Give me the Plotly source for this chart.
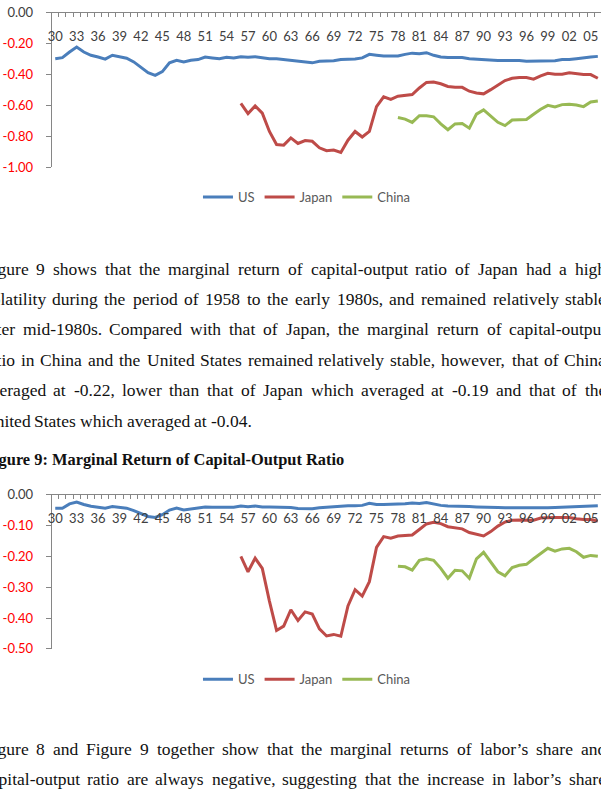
import plotly.graph_objects as go

# ---------------- data ----------------
years = list(range(1930, 2007))
japan_years = list(range(1956, 2007))
china_years = list(range(1978, 2007))

label_years = list(range(1930, 2006, 3))
label_text = ["30", "33", "36", "39", "42", "45", "48", "51", "54", "57", "60", "63", "66",
              "69", "72", "75", "78", "81", "84", "87", "90", "93", "96", "99", "02", "05"]

# Figure 8 (top): marginal return of labor's share
us_top = [-0.297, -0.290, -0.254, -0.222, -0.254, -0.275, -0.286, -0.300, -0.275, -0.286,
          -0.294, -0.318, -0.354, -0.388, -0.405, -0.381, -0.324, -0.307, -0.318, -0.307,
          -0.303, -0.286, -0.292, -0.297, -0.288, -0.292, -0.284, -0.288, -0.284, -0.290,
          -0.297, -0.297, -0.303, -0.309, -0.316, -0.320, -0.324, -0.314, -0.314, -0.311,
          -0.303, -0.301, -0.299, -0.292, -0.269, -0.275, -0.280, -0.280, -0.280, -0.269,
          -0.261, -0.265, -0.258, -0.275, -0.286, -0.290, -0.290, -0.290, -0.297, -0.301,
          -0.305, -0.305, -0.309, -0.309, -0.309, -0.309, -0.314, -0.314, -0.314, -0.314,
          -0.311, -0.303, -0.303, -0.297, -0.290, -0.286, -0.282]
japan_top = [-0.587, -0.653, -0.604, -0.650, -0.769, -0.854, -0.858, -0.811, -0.847,
             -0.828, -0.833, -0.875, -0.894, -0.890,
             -0.905, -0.826, -0.769, -0.805, -0.769, -0.608, -0.544, -0.561, -0.540, -0.536,
             -0.530, -0.487, -0.451, -0.449, -0.460, -0.477, -0.483, -0.483, -0.508, -0.519,
             -0.525, -0.498, -0.468, -0.439, -0.424, -0.419, -0.419, -0.430, -0.409, -0.392,
             -0.398, -0.398, -0.388, -0.396, -0.400, -0.400, -0.424]
china_top = [-0.678, -0.689,
             -0.710, -0.667, -0.667, -0.674, -0.720, -0.758, -0.720, -0.718, -0.748, -0.657,
             -0.629, -0.667, -0.710, -0.731, -0.695, -0.693, -0.691, -0.657, -0.625, -0.600,
             -0.610, -0.595, -0.593, -0.597, -0.608, -0.578, -0.572]

# Figure 9 (bottom): marginal return of capital-output ratio
us_bot = [-0.044, -0.044, -0.030, -0.024, -0.032, -0.038, -0.041, -0.044, -0.039, -0.041,
          -0.044, -0.052, -0.062, -0.071, -0.074, -0.065, -0.050, -0.044, -0.050, -0.047,
          -0.045, -0.040, -0.041, -0.041, -0.040, -0.041, -0.037, -0.039, -0.037, -0.040,
          -0.040, -0.040, -0.042, -0.042, -0.045, -0.046, -0.046, -0.043, -0.041, -0.041,
          -0.037, -0.036, -0.036, -0.035, -0.028, -0.032, -0.032, -0.032, -0.032, -0.030,
          -0.027, -0.029, -0.026, -0.031, -0.035, -0.037, -0.037, -0.037, -0.039, -0.040,
          -0.040, -0.041, -0.042, -0.043, -0.043, -0.043, -0.044, -0.045, -0.044, -0.043,
          -0.042, -0.041, -0.041, -0.040, -0.038, -0.037, -0.036]
japan_bot = [-0.200, -0.250, -0.206, -0.239, -0.345, -0.440, -0.426, -0.373, -0.408,
             -0.380, -0.387, -0.435, -0.458, -0.453,
             -0.459, -0.361, -0.308, -0.329, -0.282, -0.171, -0.136, -0.141, -0.134, -0.133,
             -0.131, -0.113, -0.095, -0.090, -0.094, -0.104, -0.108, -0.111, -0.123, -0.129,
             -0.134, -0.120, -0.102, -0.089, -0.083, -0.082, -0.082, -0.083, -0.076, -0.074,
             -0.074, -0.074, -0.074, -0.078, -0.081, -0.081, -0.086]
china_bot = [-0.232, -0.234,
             -0.245, -0.213, -0.208, -0.213, -0.239, -0.271, -0.245, -0.247, -0.271, -0.208,
             -0.187, -0.218, -0.250, -0.263, -0.236, -0.229, -0.226, -0.208, -0.190, -0.174,
             -0.183, -0.176, -0.174, -0.185, -0.203, -0.197, -0.200]

top_ticks = [0.0, -0.2, -0.4, -0.6, -0.8, -1.0]
bot_ticks = [0.0, -0.1, -0.2, -0.3, -0.4, -0.5]

para1 = [
    "Figure 9 shows that the marginal return of capital-output ratio of Japan had a high",
    "volatility during the period of 1958 to the early 1980s, and remained relatively stable",
    "after mid-1980s. Compared with that of Japan, the marginal return of capital-output",
    "ratio in China and the United States remained relatively stable, however, that of China",
    "averaged at -0.22, lower than that of Japan which averaged at -0.19 and that of the",
    "United States which averaged at -0.04.",
]
caption = "Figure 9: Marginal Return of Capital-Output Ratio"
para2 = [
    "Figure 8 and Figure 9 together show that the marginal returns of labor\u2019s share and",
    "capital-output ratio are always negative, suggesting that the increase in labor\u2019s share",
]

# ---------------- styling ----------------
W, H = 601, 801
COLORS = {"US": "#4A7EBB", "Japan": "#BE4B48", "China": "#98B954"}
AXIS_GRAY = "#868686"
TICK_FONT = dict(family="Lato", size=13, color="#404040")


def py(v):
    return 1 - v / H


def px(v):
    return v / W


def tick_text(vals):
    out = []
    for v in vals:
        s = f"{v:.2f}"
        if v < 0:
            out.append(f"<span style='color:#FF0000'>{s}</span>")
        else:
            out.append(s)
    return out


fig = go.Figure()
for name, xs, ys in [("US", years, us_top), ("Japan", japan_years, japan_top), ("China", china_years, china_top)]:
    fig.add_trace(go.Scatter(x=xs, y=ys, mode="lines", name=name, xaxis="x", yaxis="y",
                             line=dict(color=COLORS[name], width=3), legend="legend"))
for name, xs, ys in [("US", years, us_bot), ("Japan", japan_years, japan_bot), ("China", china_years, china_bot)]:
    fig.add_trace(go.Scatter(x=xs, y=ys, mode="lines", name=name, xaxis="x2", yaxis="y2",
                             line=dict(color=COLORS[name], width=3), legend="legend2"))

x0_px = 48.0
step = 7.187
x_range = [1929.5, 1929.5 + (W - x0_px) / step]
bounds = [1929.5 + i for i in range(0, 78)]


def xaxis_cfg(anchor):
    return dict(domain=[px(x0_px), 1], range=x_range, side="top", anchor=anchor,
                showline=True, linecolor=AXIS_GRAY, linewidth=1,
                tickmode="array", tickvals=label_years, ticktext=label_text,
                ticks="", ticklabelposition="inside", ticklabeloverflow="allow",
                ticklabelstandoff=19, tickfont=TICK_FONT,
                minor=dict(tickmode="array", tickvals=bounds, ticks="inside", ticklen=4,
                           tickcolor=AXIS_GRAY, showgrid=False),
                showgrid=False, zeroline=False)


def yaxis_cfg(anchor, top_px, bot_px, rng, ticks):
    return dict(domain=[py(bot_px), py(top_px)], range=rng, anchor=anchor,
                showline=True, linecolor=AXIS_GRAY, linewidth=1,
                ticks="outside", ticklen=5, tickcolor=AXIS_GRAY,
                tickmode="array", tickvals=ticks, ticktext=tick_text(ticks),
                tickfont=TICK_FONT, ticklabelstandoff=10,
                showgrid=False, zeroline=False)


legend_common = dict(orientation="h", x=px(305), xanchor="center", yanchor="middle",
                     font=dict(family="Lato", size=13, color="#595959"),
                     bgcolor="rgba(0,0,0,0)", itemwidth=30, tracegroupgap=0)

fig.update_layout(
    width=W, height=H, margin=dict(l=0, r=0, t=0, b=0),
    paper_bgcolor="white", plot_bgcolor="white",
    xaxis=xaxis_cfg("y"),
    yaxis=yaxis_cfg("x", 5, 162.3, [-1.0, 0.0], top_ticks),
    xaxis2=xaxis_cfg("y2"),
    yaxis2=yaxis_cfg("x2", 496.5, 654, [-0.5, 0.0], bot_ticks),
    legend=dict(legend_common, y=py(193)),
    legend2=dict(legend_common, y=py(685)),
)

# ---------------- justified body text ----------------
TIMES = {
    " ": 250, ",": 250, "-": 333, ".": 250, ":": 278, "\u2019": 333,
    "0": 500, "1": 500, "2": 500, "3": 500, "4": 500, "5": 500, "6": 500, "7": 500, "8": 500, "9": 500,
    "A": 722, "B": 667, "C": 667, "D": 722, "E": 611, "F": 556, "G": 722, "H": 722, "I": 333, "J": 389,
    "K": 722, "L": 611, "M": 889, "N": 722, "O": 722, "P": 556, "Q": 722, "R": 667, "S": 556, "T": 611,
    "U": 722, "V": 722, "W": 944, "X": 722, "Y": 722, "Z": 611,
    "a": 444, "b": 500, "c": 444, "d": 500, "e": 444, "f": 333, "g": 500, "h": 500, "i": 278, "j": 278,
    "k": 500, "l": 278, "m": 778, "n": 500, "o": 500, "p": 500, "q": 500, "r": 333, "s": 389, "t": 278,
    "u": 500, "v": 500, "w": 722, "x": 500, "y": 500, "z": 444,
}
BODY_SIZE = 17.5
LEFT = -22.5
RIGHT = 605.0
TEXT_COLOR = "#111111"


def word_w(word, size):
    return sum(TIMES.get(c, 500) for c in word) / 1000 * size


def add_line(line, y_center, justify=True):
    words = line.split(" ")
    total = sum(word_w(w, BODY_SIZE) for w in words)
    if justify and len(words) > 1:
        gap = (RIGHT - LEFT - total) / (len(words) - 1)
    else:
        gap = 0.25 * BODY_SIZE
    x = LEFT
    for w in words:
        fig.add_annotation(x=px(x), y=py(y_center), xref="paper", yref="paper",
                           text=w, showarrow=False, xanchor="left", yanchor="middle",
                           borderpad=0, font=dict(family="Liberation Serif", size=BODY_SIZE,
                                                  color=TEXT_COLOR))
        x += word_w(w, BODY_SIZE) + gap


line_y1 = [266, 297, 328, 359, 390, 421]
for i, line in enumerate(para1):
    add_line(line, line_y1[i], justify=(i < len(para1) - 1))

fig.add_annotation(x=px(-21.0), y=py(461), xref="paper", yref="paper", text=caption,
                   showarrow=False, xanchor="left", yanchor="middle", borderpad=0,
                   font=dict(family="Liberation Serif", size=16.4, color=TEXT_COLOR, weight="bold"))

line_y2 = [756, 787]
for i, line in enumerate(para2):
    add_line(line, line_y2[i], justify=True)

fig.write_html("out.html")
